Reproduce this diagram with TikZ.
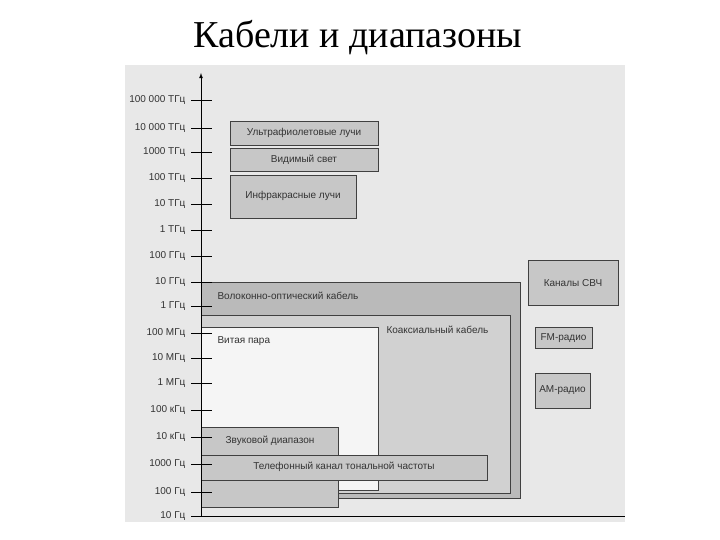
\documentclass[tikz,border=0pt]{standalone}
\usepackage{fontspec}
\setmainfont{Liberation Serif}
\newfontfamily\lab{Liberation Sans}
\begin{document}
\begin{tikzpicture}[x=1pt,y=-1pt,
  band/.style={draw=black!75,line width=0.7pt,fill=black!22},
  lbl/.style={font=\lab\fontsize{10}{11}\selectfont,text=black!80},
  tick/.style={font=\lab\fontsize{10}{11}\selectfont,text=black!80,anchor=east}]
\useasboundingbox (0,0) rectangle (720,540);
\fill[black!9] (125,65) rectangle (625,522);
\node[font=\fontsize{38}{42}\selectfont] (title) at (358,38) {Кабели и диапазоны};
% boxes
\draw[band,fill=black!27] (201,282) rectangle (520,498);
\node[lbl,anchor=west] (fib) at (214,296) {Волоконно-оптический кабель};
\draw[band,fill=black!18] (201,315) rectangle (510,493);
\node[lbl,anchor=west] (coax) at (383,330) {Коаксиальный кабель};
\draw[band,fill=black!4] (201,327) rectangle (378,490);
\node[lbl,anchor=west] (tp) at (214,341) {Витая пара};
\draw[band] (201,427) rectangle (338,507);
\node[lbl] (snd) at (270,441) {Звуковой диапазон};
\draw[band] (201,455) rectangle (487,480);
\node[lbl] (tel) at (344,467) {Телефонный канал тональной частоты};
\draw[band] (230,121) rectangle (378,145);
\node[lbl] (uv) at (304,133) {Ультрафиолетовые лучи};
\draw[band] (230,148) rectangle (378,171);
\node[lbl] (vis) at (304,160) {Видимый свет};
\draw[band] (230,175) rectangle (356,218);
\node[lbl] (ir) at (293,196) {Инфракрасные лучи};
\draw[band] (528,260) rectangle (618,305);
\node[lbl] (shf) at (573,283) {Каналы СВЧ};
\draw[band] (535,327) rectangle (592,348);
\node[lbl] (fm) at (563.5,338) {FM-радио};
\draw[band] (535,373) rectangle (590,408);
\node[lbl] (am) at (562.5,390) {AM-радио};
% axis
\coordinate (a0) at (201,516);
\coordinate (a1) at (201,73);
\coordinate (b1) at (625,516);
\draw[line width=0.8pt,-latex] (a0) -- (a1);
\draw[line width=0.8pt] (a0) -- (b1);
\foreach \y/\t in {100/100 000 ТГц,128/10 000 ТГц,152/1000 ТГц,178/100 ТГц,204/10 ТГц,230/1 ТГц,256/100 ГГц,282/10 ГГц,306/1 ГГц,333/100 МГц,358/10 МГц,383/1 МГц,410/100 кГц,437/10 кГц,464/1000 Гц,492/100 Гц,516/10 Гц}{
  \draw[line width=0.6pt] (191,\y) -- (212,\y);
  \node[tick] at (189,\y) {\t};
}
\end{tikzpicture}
\end{document}
